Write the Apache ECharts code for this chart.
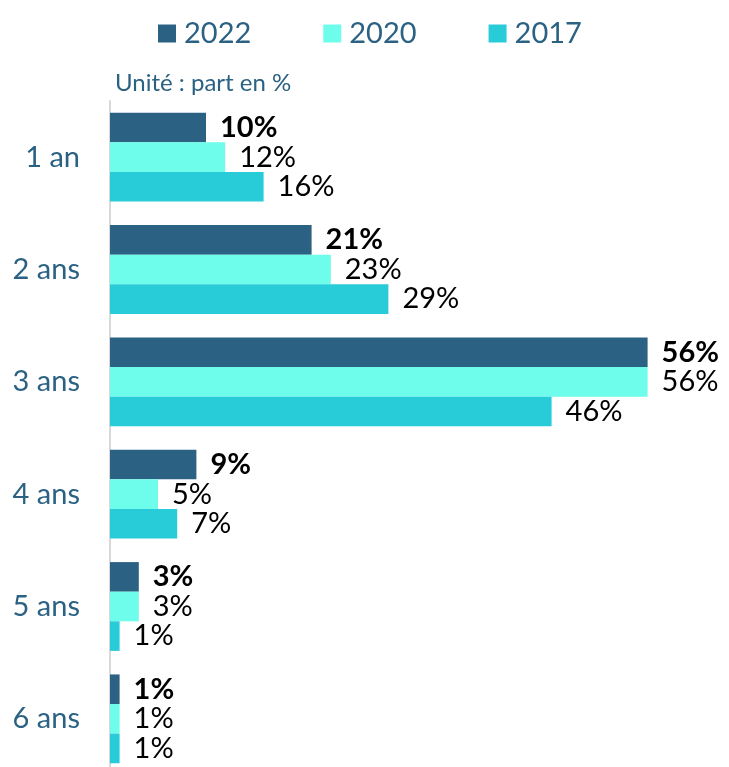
<!DOCTYPE html>
<html><head><meta charset="utf-8">
<script src="https://cdn.jsdelivr.net/npm/echarts@6/dist/echarts.min.js"></script>
<style>html,body{margin:0;padding:0;background:#fff;overflow:hidden}#c{width:729px;height:790px}</style>
</head><body><div id="c"></div>
<script>
const categories = ['1 an', '2 ans', '3 ans', '4 ans', '5 ans', '6 ans'];
const seriesNames = ['2022', '2020', '2017'];
const values2022 = [10, 21, 56, 9, 3, 1];
const values2020 = [12, 23, 56, 5, 3, 1];
const values2017 = [16, 29, 46, 7, 1, 1];
const colors = ['#2b6283', '#6dfdea', '#28ccd8'];
const FONT = 'Lato, "Open Sans", sans-serif';
const textBlue = '#2b6283';

const chart = echarts.init(document.getElementById('c'), null, {renderer: 'canvas'});
const data = [values2022, values2020, values2017];
chart.setOption({
  animation: false,
  color: colors,
  textStyle: {fontFamily: FONT},
  legend: {
    top: 14, left: 153,
    itemWidth: 18, itemHeight: 18, itemGap: 72,
    icon: 'rect',
    textStyle: {fontSize: 29, color: textBlue, fontFamily: FONT, padding: [0, 0, 0, 3]},
    data: seriesNames
  },
  graphic: [{
    type: 'text', left: 115, top: 71,
    style: {text: 'Unité : part en %', fontSize: 24, fill: textBlue, fontFamily: FONT}
  }],
  grid: {left: 110, top: 101, width: 576, height: 674, containLabel: false},
  xAxis: {type: 'value', min: 0, max: 60, show: false},
  yAxis: {
    type: 'category', data: categories, inverse: true,
    axisLine: {show: true, lineStyle: {color: '#d9d9d9', width: 2}},
    axisTick: {show: false},
    axisLabel: {fontSize: 29, color: textBlue, margin: 30, fontFamily: FONT},
    splitLine: {show: false}
  },
  series: seriesNames.map((n, i) => ({
    name: n, type: 'bar', data: data[i],
    barWidth: 29.6, barGap: '0%', barCategoryGap: '21%',
    itemStyle: {color: colors[i]},
    label: {
      show: true, position: 'right', distance: 14,
      formatter: p => p.value + '%',
      fontSize: 29, color: '#000', fontFamily: FONT,
      fontWeight: i === 0 ? 'bold' : 'normal'
    }
  }))
});
</script></body></html>
